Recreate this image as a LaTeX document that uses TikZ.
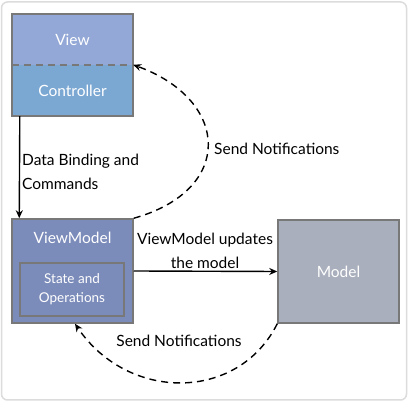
\documentclass[tikz,border=0pt]{standalone}
\usepackage{fontspec}
\setmainfont{Lato}
\usetikzlibrary{arrows.meta}
\definecolor{viewc}{HTML}{93A8D6}
\definecolor{ctrlc}{HTML}{7BA7D3}
\definecolor{vmc}{HTML}{7C8CBA}
\definecolor{modelc}{HTML}{A9AFBC}
\definecolor{edgec}{HTML}{787878}
\definecolor{framec}{HTML}{DCDCDC}
\tikzset{
  fillbox/.style={rectangle, inner sep=0pt, text=white, font=\fontsize{15.5}{17}\selectfont},
  box/.style={fillbox, draw=edgec, line width=1.5pt},
  lbl/.style={font=\fontsize{15.5}{24}\selectfont, inner sep=0pt, text=black},
  conn/.style={line width=1.4pt, -{Stealth[length=8pt,width=7pt]}},
  notif/.style={conn, dashed, dash pattern=on 7pt off 5pt}
}
\begin{document}
\begin{tikzpicture}[x=1pt,y=-1pt]
\useasboundingbox (0,0) rectangle (408,403);
\fill[white] (0,0) rectangle (408,403);
\node[draw=framec, line width=1.5pt, rounded corners=6pt, fill=white, minimum width=405pt, minimum height=398pt, inner sep=0pt] (frame) at (204,201) {};
% View / Controller
\node[fillbox, fill=viewc, minimum width=121pt, minimum height=51pt] (view) at (72.5,39.5) {View};
\node[fillbox, fill=ctrlc, minimum width=121pt, minimum height=51pt] (ctrl) at (72.5,90.5) {Controller};
\draw[edgec, line width=1.5pt, dashed, dash pattern=on 7pt off 5pt] (view.south west) -- (view.south east);
\draw[edgec, line width=1.5pt] (view.north west) rectangle (ctrl.south east);
% ViewModel
\node[box, fill=vmc, minimum width=121pt, minimum height=104pt] (vm) at (72.5,271) {};
\node[fillbox, anchor=center] (vmlabel) at (72.5,238) {ViewModel};
\node[box, fill=vmc, minimum width=104pt, minimum height=53pt, align=center, font=\fontsize{13.5}{19}\selectfont] (state) at (72,289.5) {State and\\Operations};
% Model
\node[box, fill=modelc, minimum width=121pt, minimum height=103pt] (model) at (338.5,271.5) {Model};
% connectors
\draw[conn] ([xshift=8pt]ctrl.south west) -- ([xshift=8pt]vm.north west);
\node[lbl, anchor=west, align=left] (dblbl) at (22,172) {Data Binding and\\Commands};
\draw[conn] (vm.east) -- (model.west);
\node[lbl, align=center] (uplbl) at (205,250.5) {ViewModel updates\\the model};
\draw[notif] (vm.north east) .. controls (235,190) and (230,100) .. (ctrl.north east);
\node[lbl, anchor=west] (sn1) at (214,149) {Send Notifications};
\draw[notif] (model.south west) .. controls (238,402) and (128,402) .. ([xshift=2.5pt]vm.south);
\node[lbl] (sn2) at (179,341) {Send Notifications};
\end{tikzpicture}
\end{document}
